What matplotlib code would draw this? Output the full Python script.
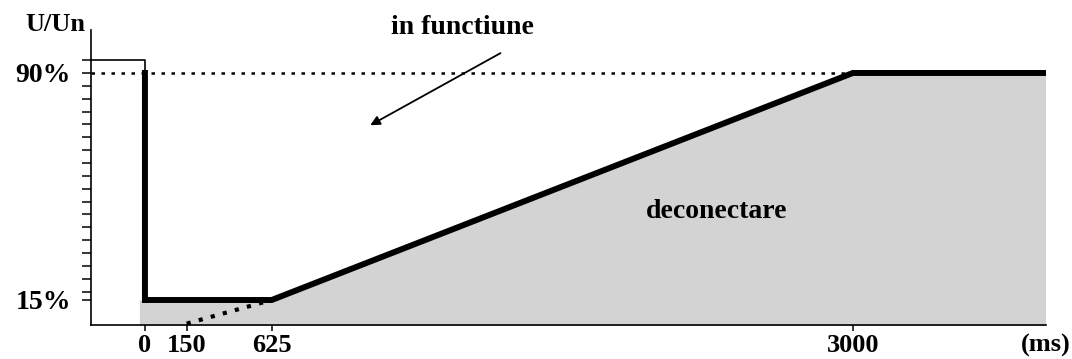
import numpy as np
import matplotlib
matplotlib.use("Agg")
import matplotlib.pyplot as plt

plt.rcParams['font.family'] = ['Liberation Serif', 'DejaVu Serif']
plt.rcParams['font.weight'] = 'bold'

# limit curve (ms, % of Un)
curve_t = [0, 0, 625, 3000, 3787]
curve_u = [90, 15, 15, 90, 90]

# shaded "deconectare" area
fill_t = [-20, 625, 3000, 3787]
fill_u = [15, 15, 90, 90]

# dotted extension of the ramp
ext_t = [150, 625]
ext_u = [7.2, 15]

# pre-fault level (thin box)
pre_t = [-194, 0, 0]
pre_u = [94.25, 94.25, 90]

x_ticks = [0, 150, 625, 3000]
x_labels = ['0', '150', '625', '3000']
y_ticks = [15, 90]
y_labels = ['15%', '90%']

# the drawing is schematic: the time axis is not linear
scale_ms = [-1000, 0, 150, 625, 3000, 6000]
scale_pos = [-278, 0, 41.7, 126.7, 707.7, 1442]


def fwd(x):
    return np.interp(x, scale_ms, scale_pos)


def inv(x):
    return np.interp(x, scale_pos, scale_ms)


fig = plt.figure(figsize=(10.72, 3.59), dpi=100)
ax = fig.add_axes([91 / 1072, 34 / 359, 954.5 / 1072, 295 / 359])
ax.set_xscale('function', functions=(fwd, inv))
ax.set_xlim(-194, 3787)
ax.set_ylim(6.74, 104.2)

ax.fill_between(fill_t, fill_u, 0, color='#d3d3d3', lw=0, zorder=1)
ax.plot(ext_t, ext_u, color='black', lw=3, dashes=(1.0, 2.0), zorder=2)
ax.plot([-194, 3000], [90, 90], color='black', lw=1.8, dashes=(1.4, 2.6), zorder=2)
ax.plot(pre_t, pre_u, color='black', lw=1.2, zorder=3, clip_on=False)
ax.plot(curve_t, curve_u, color='black', lw=4.3, zorder=4, solid_joinstyle='miter')

for s in ['top', 'right']:
    ax.spines[s].set_visible(False)
for s in ['left', 'bottom']:
    ax.spines[s].set_linewidth(1.2)

ax.set_xticks(x_ticks)
ax.set_xticklabels(x_labels, fontsize=19, fontweight='bold')
ax.set_yticks(y_ticks)
ax.set_yticklabels(y_labels, fontsize=20, fontweight='bold')
ax.set_yticks(np.arange(17.75, 94.3, 4.25), minor=True)
ax.xaxis.set_minor_locator(matplotlib.ticker.NullLocator())
ax.tick_params(axis='x', length=4, width=1.1, pad=2.5)
ax.tick_params(axis='y', which='both', length=6.5, width=1.1, pad=8)

ax.text(-0.006, 1.017, 'U/Un', transform=ax.transAxes, fontsize=19,
        fontweight='bold', ha='right', va='center')
ax.text(1.0, -0.07, '(ms)', transform=ax.transAxes, fontsize=19,
        fontweight='bold', ha='center', va='center')

ax.text(1406, 105, 'in functiune', fontsize=20, fontweight='bold',
        ha='center', va='center', clip_on=False)
ax.annotate('', xy=(1018, 72.3), xytext=(1570, 97),
            arrowprops=dict(arrowstyle='-|>', color='black', lw=1.3,
                            mutation_scale=14))
ax.text(2444, 44.3, 'deconectare', fontsize=20, fontweight='bold',
        ha='center', va='center')

fig.savefig('out.png', dpi=100)
